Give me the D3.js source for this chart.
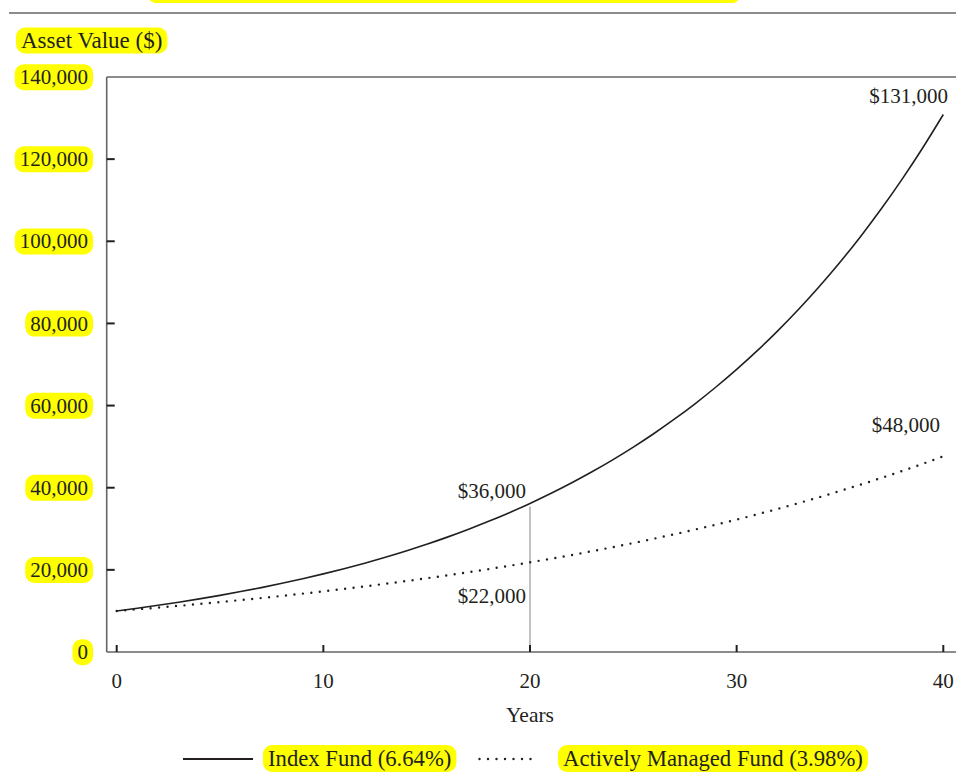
<!DOCTYPE html>
<html>
<head>
<meta charset="utf-8">
<script src="https://cdn.jsdelivr.net/npm/d3@7"></script>
<style>
  html, body { margin: 0; padding: 0; background: #fff; }
  svg { display: block; }
  text { font-family: "Liberation Serif", "DejaVu Serif", serif; fill: #231f20; }
</style>
</head>
<body>
<svg id="chart" width="956" height="784"></svg>
<script>
// ---- data ----
const years = [0,1,2,3,4,5,6,7,8,9,10,11,12,13,14,15,16,17,18,19,20,21,22,23,24,25,26,27,28,29,30,31,32,33,34,35,36,37,38,39,40];
const indexFund = [10000,10660,11370,12130,12930,13790,14710,15680,16730,17840,19020,20280,21630,23070,24600,26230,27970,29830,31810,33920,36180,38580,41140,43870,46780,49890,53200,56740,60500,64520,68810,73370,78250,83440,88980,94890,101190,107910,115080,122720,130870];
const activeFund = [10000,10400,10810,11240,11690,12160,12640,13140,13670,14210,14770,15360,15970,16610,17270,17960,18670,19420,20190,20990,21830,22700,23600,24540,25520,26530,27590,28690,29830,31020,32250,33530,34870,36260,37700,39200,40760,42380,44070,45820,47650];
const seriesNames = ["Index Fund (6.64%)", "Actively Managed Fund (3.98%)"];
const xTicks = [0, 10, 20, 30, 40];
const yTicks = [0, 20000, 40000, 60000, 80000, 100000, 120000, 140000];
const yAxisTitle = "Asset Value ($)";
const xAxisTitle = "Years";
const markerYear = 20;
const annotations = [
  {x: 40, text: "$131,000", series: 0},
  {x: 40, text: "$48,000", series: 1},
  {x: 20, text: "$36,000", series: 0},
  {x: 20, text: "$22,000", series: 1}
];

// ---- layout ----
const svg = d3.select("#chart");
const HL = "#ffff00";
const x = d3.scaleLinear().domain([0, 40]).range([116.7, 943.3]);
const y = d3.scaleLinear().domain([0, 140000]).range([652, 77]);
const axisLeft = 106.7, axisBottom = 652, plotTop = 77;

function highlight(sel, padX, h) {
  sel.each(function() {
    const b = this.getBBox();
    const cy = b.y + b.height / 2;
    d3.select(this.parentNode).insert("rect", () => this)
      .attr("x", b.x - padX).attr("y", cy - h / 2)
      .attr("width", b.width + 2 * padX).attr("height", h)
      .attr("rx", 9).attr("ry", 9)
      .attr("fill", HL);
  });
}

// title strip (cut off at top)
svg.append("rect").attr("x", 148).attr("y", -20).attr("width", 592).attr("height", 23)
  .attr("rx", 8).attr("fill", HL);
// top rule
svg.append("line").attr("x1", 9).attr("x2", 956).attr("y1", 13).attr("y2", 13)
  .attr("stroke", "#666").attr("stroke-width", 1.6);

// frame lines
svg.append("line").attr("x1", axisLeft).attr("x2", 956).attr("y1", plotTop).attr("y2", plotTop)
  .attr("stroke", "#666").attr("stroke-width", 1.6);
svg.append("line").attr("x1", axisLeft).attr("x2", axisLeft).attr("y1", plotTop).attr("y2", axisBottom)
  .attr("stroke", "#666").attr("stroke-width", 1.6);
svg.append("line").attr("x1", axisLeft).attr("x2", 956).attr("y1", axisBottom).attr("y2", axisBottom)
  .attr("stroke", "#666").attr("stroke-width", 1.6);

// y axis ticks & labels
const fmt = d3.format(",");
const yg = svg.append("g");
yTicks.forEach(v => {
  if (v > 0 && v < 140000) {
    yg.append("line").attr("x1", axisLeft).attr("x2", axisLeft + 8)
      .attr("y1", y(v)).attr("y2", y(v)).attr("stroke", "#231f20").attr("stroke-width", 2);
  }
  const g = yg.append("g");
  g.append("text").attr("x", 88).attr("y", y(v)).attr("dy", "0.34em")
    .attr("text-anchor", "end").attr("font-size", 21).text(fmt(v));
});
yg.selectAll("text").call(highlight, 5, 26);

// y axis title
const yt = svg.append("g");
yt.append("text").attr("x", 21).attr("y", 48).attr("font-size", 23).text(yAxisTitle);
yt.selectAll("text").call(highlight, 5, 26);

// x ticks & labels
xTicks.forEach(v => {
  svg.append("line").attr("x1", x(v)).attr("x2", x(v)).attr("y1", axisBottom).attr("y2", axisBottom - 7)
    .attr("stroke", "#231f20").attr("stroke-width", 2);
  svg.append("text").attr("x", x(v)).attr("y", 688).attr("text-anchor", "middle")
    .attr("font-size", 21).text(v);
});
svg.append("text").attr("x", (x(0) + x(40)) / 2).attr("y", 722).attr("text-anchor", "middle")
  .attr("font-size", 21.5).text(xAxisTitle);

// marker line at year 20
const mi = years.indexOf(markerYear);
svg.append("line").attr("x1", x(markerYear)).attr("x2", x(markerYear))
  .attr("y1", y(indexFund[mi]) + 3).attr("y2", axisBottom - 7)
  .attr("stroke", "#9a9a9a").attr("stroke-width", 1.2);

// lines
const line = (vals) => d3.line().x((d, i) => x(years[i])).y(d => y(d)).curve(d3.curveMonotoneX)(vals);
svg.append("path").attr("d", line(activeFund)).attr("fill", "none")
  .attr("stroke", "#231f20").attr("stroke-width", 2.4)
  .attr("stroke-linecap", "round").attr("stroke-dasharray", "0 8.5");
svg.append("path").attr("d", line(indexFund)).attr("fill", "none")
  .attr("stroke", "#231f20").attr("stroke-width", 1.6);

// annotations
const annPos = [
  {dx: 948, y: 103},
  {dx: 940, y: 432},
  {dx: 526, y: 498},
  {dx: 526, y: 603}
];
annotations.forEach((a, i) => {
  svg.append("text").attr("x", annPos[i].dx).attr("y", annPos[i].y)
    .attr("text-anchor", "end").attr("font-size", 21).text(a.text);
});

// legend
const lg = svg.append("g");
lg.append("line").attr("x1", 183).attr("x2", 253).attr("y1", 759).attr("y2", 759)
  .attr("stroke", "#231f20").attr("stroke-width", 2.2);
lg.append("line").attr("x1", 479.5).attr("x2", 539).attr("y1", 759).attr("y2", 759)
  .attr("stroke", "#231f20").attr("stroke-width", 2.4)
  .attr("stroke-linecap", "round").attr("stroke-dasharray", "0 8.5");
const lt = lg.append("g");
lt.append("text").attr("x", 268).attr("y", 766).attr("font-size", 22.7).text(seriesNames[0]);
lt.append("text").attr("x", 563).attr("y", 766).attr("font-size", 22.7).text(seriesNames[1]);
lt.selectAll("text").call(highlight, 5, 27);
</script>
</body>
</html>
